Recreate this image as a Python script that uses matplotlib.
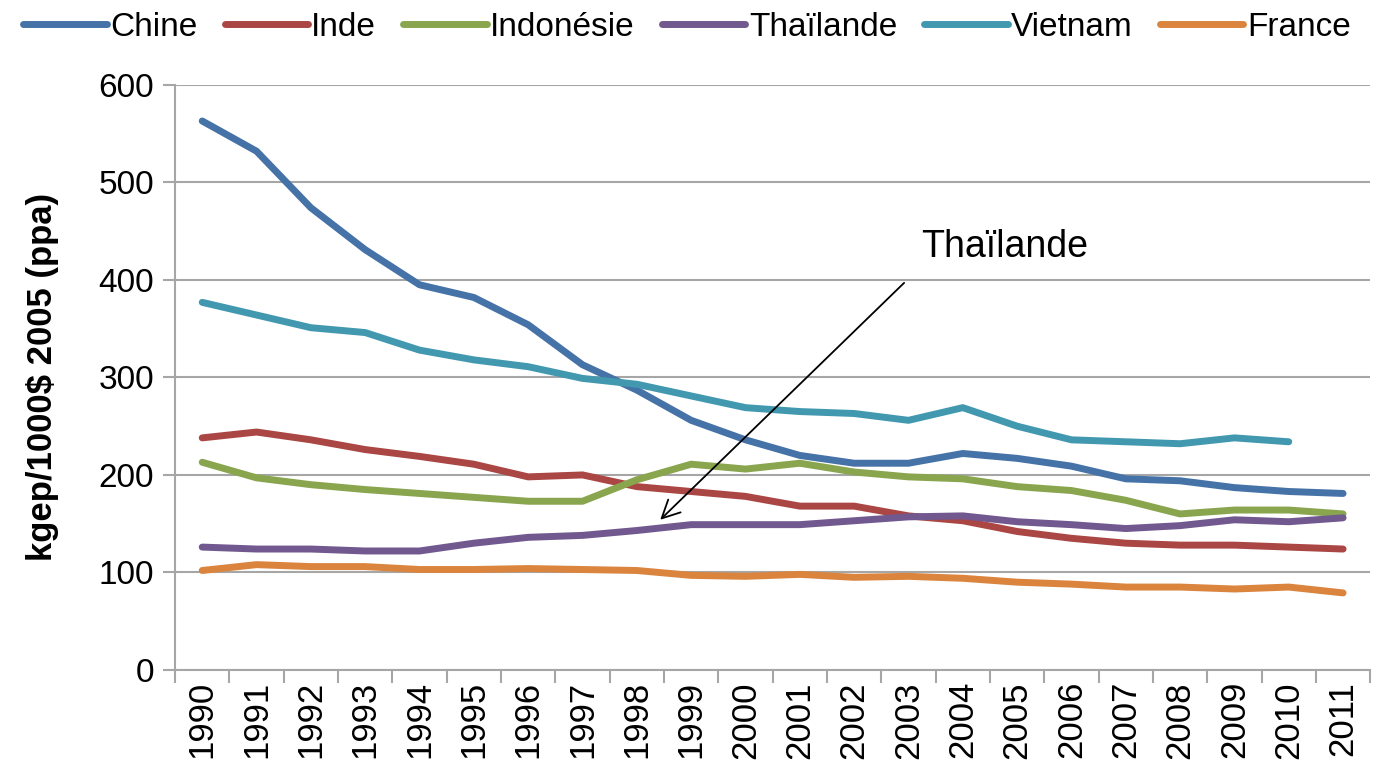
import matplotlib
matplotlib.use("Agg")
import matplotlib.pyplot as plt
import numpy as np

plt.rcParams['font.family'] = ['Liberation Sans', 'DejaVu Sans']

years = [str(y) for y in range(1990, 2012)]

# kgep/1000$ 2005 (ppa)
chine = [563, 532, 474, 431, 395, 382, 354, 313, 287, 256, 236, 220, 212, 212, 222, 217, 209, 196, 194, 187, 183, 181]
inde = [238, 244, 236, 226, 219, 211, 198, 200, 188, 183, 178, 168, 168, 158, 153, 142, 135, 130, 128, 128, 126, 124]
indonesie = [213, 197, 190, 185, 181, 177, 173, 173, 195, 211, 206, 212, 203, 198, 196, 188, 184, 174, 160, 164, 164, 160]
thailande = [126, 124, 124, 122, 122, 130, 136, 138, 143, 149, 149, 149, 153, 157, 158, 152, 149, 145, 148, 154, 152, 156]
vietnam = [377, 364, 351, 346, 328, 318, 311, 299, 293, 281, 269, 265, 263, 256, 269, 250, 236, 234, 232, 238, 234, np.nan]
france = [102, 108, 106, 106, 103, 103, 104, 103, 102, 97, 96, 98, 95, 96, 94, 90, 88, 85, 85, 83, 85, 79]

series = [("Chine", chine, "#4572A7"),
          ("Inde", inde, "#AA4643"),
          ("Indonésie", indonesie, "#89A54E"),
          ("Thaïlande", thailande, "#71588F"),
          ("Vietnam", vietnam, "#4198AF"),
          ("France", france, "#DB843D")]

fig = plt.figure(figsize=(13.73, 7.79), dpi=100)
ax = fig.add_axes([0.1275, 0.140, 0.8705, 0.751])

x = np.arange(len(years))
for name, vals, col in series:
    ax.plot(x, vals, color=col, lw=5, label=name, solid_capstyle="round", zorder=3)

ax.set_xlim(-0.5, len(years) - 0.5)
ax.set_ylim(0, 600)
ax.set_yticks(range(0, 601, 100))
ax.yaxis.grid(True, color="#a6a6a6", lw=1.5)
ax.set_axisbelow(True)

ax.set_xticks(x)
ax.set_xticklabels(years, rotation=90, fontsize=25)
ax.set_xticks(np.arange(-0.5, len(years)), minor=True)
ax.tick_params(axis="x", which="major", length=0, pad=8)
ax.tick_params(axis="x", which="minor", length=9, width=1.5, color="#a6a6a6", direction="out")
ax.tick_params(axis="y", length=9, width=1.5, color="#a6a6a6", labelsize=24, pad=6)

for s in ["top", "right"]:
    ax.spines[s].set_visible(False)
for s in ["left", "bottom"]:
    ax.spines[s].set_color("#a6a6a6")
    ax.spines[s].set_linewidth(1.5)

ax.set_ylabel("kgep/1000$ 2005 (ppa)", fontsize=25, fontweight="bold")
ax.yaxis.set_label_coords(-0.097, 0.5)

# arrow + separate label (arrow starts below-left of the text)
ax.annotate("", xy=(8.43, 154), xytext=(12.92, 397),
            arrowprops=dict(arrowstyle="->", color="black", lw=1.3,
                            mutation_scale=32, shrinkA=0, shrinkB=0))
ax.text(13.23, 434, "Thaïlande", fontsize=27, ha="left", va="center")

fig.legend(loc="upper left", bbox_to_anchor=(0.0, 1.015), ncol=6, frameon=False,
           fontsize=24, handlelength=2.5, handletextpad=0.1, columnspacing=0.82,
           borderaxespad=0.3)

fig.savefig("out.png", dpi=100)
